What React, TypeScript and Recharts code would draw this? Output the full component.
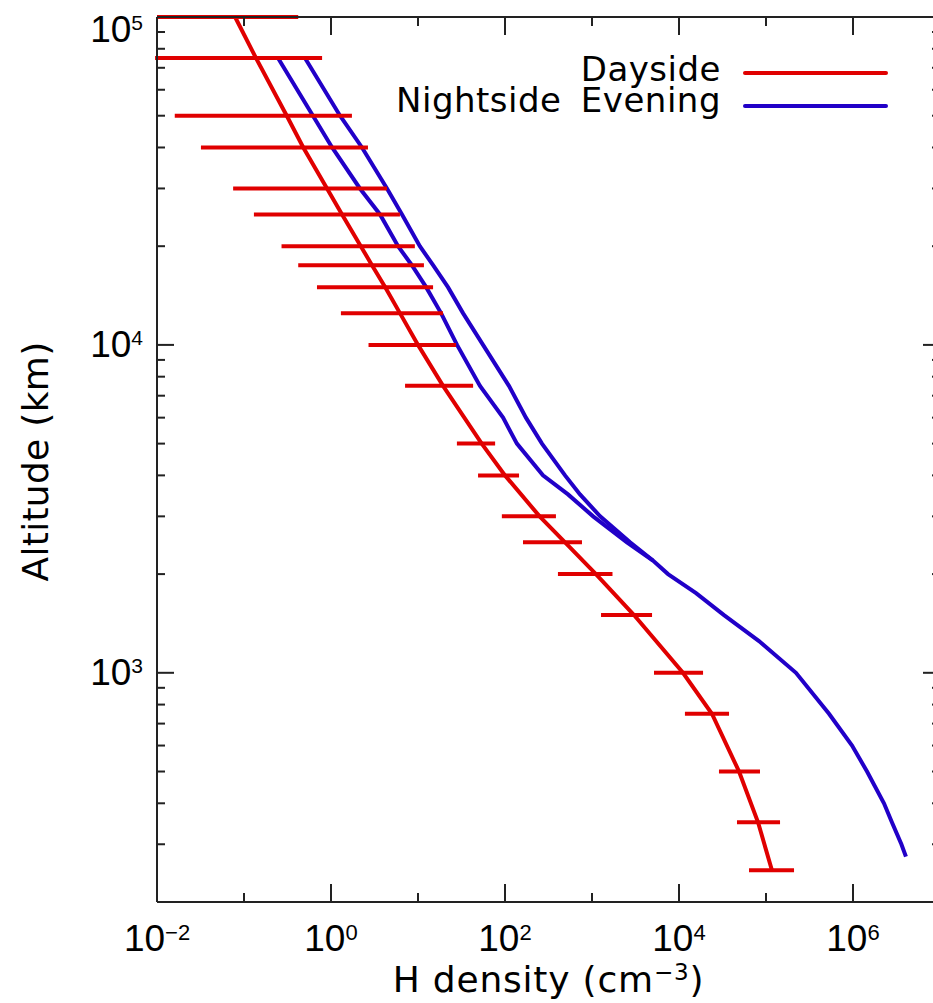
import React from "react"
import { LineChart, Line, XAxis, YAxis, ErrorBar, ReferenceLine } from "recharts"

// axis ticks
const xExponents = [-2, -1, 0, 1, 2, 3, 4, 5, 6, 7]
const xTicks = xExponents.map((e) => Math.pow(10, e))
const yMantissas = [1, 2, 3, 4, 5, 6, 7, 8, 9]
const yDecades = [100, 1000, 10000]
const yTicks = yDecades
  .flatMap((d) => yMantissas.map((m) => m * d))
  .filter((v) => v >= 200)
  .concat([100000])

// Dayside (with horizontal error bars)
const dayAlt = [100000, 75000, 50000, 40000, 30000, 25000, 20000, 17500, 15000, 12500, 10000, 7500, 5000, 4000, 3000, 2500, 2000, 1500, 1000, 750, 500, 350, 250]
const dayN = [0.079, 0.137, 0.31, 0.48, 0.9, 1.34, 2.2, 2.96, 4.2, 6.2, 10, 19.4, 54, 100, 250, 490, 1110, 3040, 11100, 23900, 49000, 81000, 117000]
const dayLo = [0.01, 0.0095, 0.016, 0.032, 0.075, 0.13, 0.27, 0.42, 0.69, 1.3, 2.7, 7.1, 28, 49, 92, 161, 406, 1270, 5160, 11700, 28800, 46400, 63800]
const dayHi = [0.42, 0.79, 1.74, 2.66, 4.4, 6.2, 9.2, 11.7, 14.9, 19.4, 27.4, 43, 77, 145, 385, 767, 1720, 4900, 18900, 37600, 85300, 145000, 210000]

// Nightside evening, two profiles
const nightAAlt = [75000, 50000, 40000, 30000, 25000, 20000, 17500, 15000, 12500, 10000, 7500, 6000, 5000, 4000, 3500, 3000, 2500, 2200, 2000, 1750, 1500, 1250, 1000, 750, 600, 500, 400, 350, 300, 275]
const nightAN = [0.246, 0.62, 1.03, 2.15, 3.66, 5.9, 8.5, 12.4, 18.4, 28.1, 51.6, 95, 137, 273, 530, 1030, 2520, 5020, 7480, 15700, 32900, 83100, 221000, 530000, 975000, 1450000, 2270000, 2800000, 3600000, 4060000]
const nightBAlt = [75000, 50000, 40000, 30000, 25000, 20000, 17500, 15000, 12500, 10000, 7500, 6000, 5000, 4000, 3500, 3000, 2500, 2200]
const nightBN = [0.502, 1.27, 2.27, 4.4, 6.55, 10.5, 14.9, 22.1, 32.9, 55.9, 111, 174, 266, 490, 728, 1240, 2740, 5020]

const dayData = dayAlt.map((alt, i) => ({
  alt,
  n: dayN[i],
  err: [dayN[i] - dayLo[i], dayHi[i] - dayN[i]],
}))
const nightAData = nightAAlt.map((alt, i) => ({ alt, n: nightAN[i] }))
const nightBData = nightBAlt.map((alt, i) => ({ alt, n: nightBN[i] }))

const RED = "#e00000"
const BLUE = "#2100c8"
const AXIS = "#222"
const TICK_FONT = "'Liberation Sans', Arial, sans-serif"
const TITLE_FONT = "'DejaVu Sans', sans-serif"

const legendItems = [
  { name: "Dayside", color: RED },
  { name: "Nightside Evening", color: BLUE },
]

const expOf = (v: number) => Math.round(Math.log10(v))
const isDecade = (v: number) => Math.abs(Math.pow(10, expOf(v)) - v) < v * 1e-6
const expText = (e: number) => (e < 0 ? `\u2212${-e}` : `${e}`)

// tick labels only; the marks come from reference lines
function BottomTick(props: any) {
  const e = expOf(props.payload.value)
  if (e % 2 !== 0) return <g />
  return (
    <text x={props.x} y={props.y + 49} textAnchor="middle" fontFamily={TICK_FONT} fontSize={37} fill="#000">
      10<tspan dy={-11} fontSize={22}>{expText(e)}</tspan>
    </text>
  )
}

function LeftTick(props: any) {
  const v = props.payload.value
  if (!isDecade(v)) return <g />
  const base = v >= 100000 ? props.y + 25 : props.y + 12
  return (
    <text x={props.x - 14} y={base} textAnchor="end" fontFamily={TICK_FONT} fontSize={37} fill="#000">
      10<tspan dy={-12} fontSize={21}>{expText(expOf(v))}</tspan>
    </text>
  )
}

// inward tick marks at both ends of a reference line
function XTickMarks(props: any) {
  const { x1, y1, y2, len } = props
  const top = Math.min(y1, y2)
  const bottom = Math.max(y1, y2)
  return (
    <g>
      <rect x={x1 - 1} y={bottom - len} width={2} height={len} fill={AXIS} />
      <rect x={x1 - 1} y={top} width={2} height={len} fill={AXIS} />
    </g>
  )
}

function YTickMarks(props: any) {
  const { x1, x2, y1, len } = props
  const left = Math.min(x1, x2)
  const right = Math.max(x1, x2)
  return (
    <g>
      <rect x={left} y={y1 - 1} width={len} height={2} fill={AXIS} />
      <rect x={right - len} y={y1 - 1} width={len} height={2} fill={AXIS} />
    </g>
  )
}

function XTitle({ viewBox }: any) {
  if (!viewBox) return null
  return (
    <text x={viewBox.x + viewBox.width / 2} y={viewBox.y + 90} textAnchor="middle" fontFamily={TITLE_FONT} fontSize={36} letterSpacing={0.8} fill="#000">
      H density (cm<tspan dy={-12} fontSize={23}>{"\u22123"}</tspan>
      <tspan dy={12}>)</tspan>
    </text>
  )
}

function YTitle({ viewBox }: any) {
  if (!viewBox) return null
  const cx = viewBox.x - 9
  const cy = viewBox.y + viewBox.height / 2 + 2
  return (
    <text x={cx} y={cy} transform={`rotate(-90, ${cx}, ${cy})`} textAnchor="middle" fontFamily={TITLE_FONT} fontSize={36} letterSpacing={0.3} fill="#000">
      Altitude (km)
    </text>
  )
}

function LegendOverlay() {
  return (
    <svg width={933} height={130} style={{ position: "absolute", left: 0, top: 0, pointerEvents: "none" }}>
      {legendItems.map((p, i) => (
        <g key={p.name}>
          <text x={721} y={81 + i * 31} textAnchor="end" fontFamily={TITLE_FONT} fontSize={34} letterSpacing={0.5} wordSpacing={8} fill="#000">
            {p.name}
          </text>
          <line x1={745} x2={886} y1={73 + i * 33} y2={73 + i * 33} stroke={p.color} strokeWidth={4} strokeLinecap="round" />
        </g>
      ))}
    </svg>
  )
}

export default function App() {
  return (
    <div style={{ position: "absolute", left: 0, top: 0, width: 933, height: 1003, overflow: "hidden", background: "#fff" }}>
      <LineChart layout="vertical" width={945} height={1003} margin={{ top: 17, right: 5, bottom: 41, left: 57 }}>
        <XAxis
          type="number"
          scale="log"
          domain={[0.01, 1e7]}
          allowDataOverflow
          ticks={xTicks}
          interval={0}
          tickSize={0}
          tickMargin={0}
          tickLine={false}
          height={60}
          axisLine={{ stroke: AXIS, strokeWidth: 2 }}
          tick={<BottomTick />}
          label={<XTitle />}
        />
        <YAxis
          type="number"
          dataKey="alt"
          scale="log"
          reversed
          domain={[200, 100000]}
          ticks={yTicks}
          interval={0}
          tickSize={0}
          tickMargin={0}
          tickLine={false}
          width={100}
          axisLine={{ stroke: AXIS, strokeWidth: 2 }}
          tick={<LeftTick />}
          label={<YTitle />}
        />
        <Line data={nightBData} dataKey="n" name="Nightside Evening 2" stroke={BLUE} strokeWidth={4} dot={false} isAnimationActive={false} />
        <Line data={nightAData} dataKey="n" name="Nightside Evening" stroke={BLUE} strokeWidth={4} dot={false} isAnimationActive={false} />
        <Line data={dayData} dataKey="n" name="Dayside" stroke={RED} strokeWidth={4} dot={false} isAnimationActive={false}>
          <ErrorBar dataKey="err" direction="x" width={0} stroke={RED} strokeWidth={4} isAnimationActive={false} />
        </Line>
        <ReferenceLine y={100000} ifOverflow="visible" stroke={AXIS} strokeWidth={2} />
        {xTicks.map((v) => (
          <ReferenceLine key={`xt-${v}`} x={v} ifOverflow="visible" shape={<XTickMarks len={expOf(v) % 2 === 0 ? 18 : 9} />} />
        ))}
        {yTicks.map((v) => (
          <ReferenceLine key={`yt-${v}`} y={v} ifOverflow="visible" shape={<YTickMarks len={isDecade(v) ? 17 : 8} />} />
        ))}
      </LineChart>
      <LegendOverlay />
    </div>
  )
}
